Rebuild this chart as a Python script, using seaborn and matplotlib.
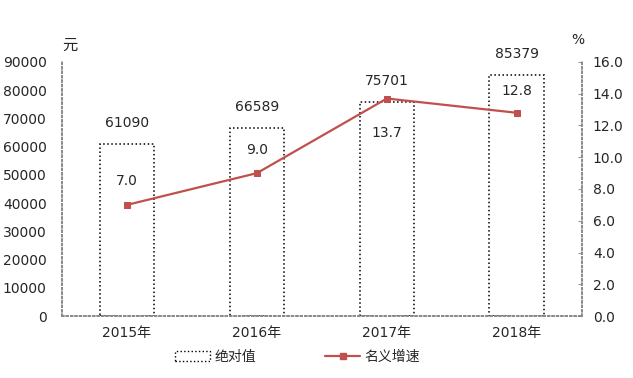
import pandas as pd
import numpy as np
import matplotlib
matplotlib.use('Agg')
import matplotlib.pyplot as plt
import seaborn as sns
from matplotlib.patches import Patch
from matplotlib.lines import Line2D

years = ['2015年', '2016年', '2017年', '2018年']
absolute = [61090, 66589, 75701, 85379]
growth = [7.0, 9.0, 13.7, 12.8]
growth_offsets = [17, 17, -25, 16]

df = pd.DataFrame({'year': years, 'absolute': absolute, 'growth': growth})

sns.set_style('white')
plt.rcParams['font.family'] = ['DejaVu Sans', 'Noto Sans CJK SC']

red = '#C0504D'

fig = plt.figure(figsize=(6.33, 3.78), dpi=100)
ax = fig.add_axes([0.098, 0.164, 0.821, 0.672])

sns.barplot(data=df, x='year', y='absolute', ax=ax, color='white',
            edgecolor='black', linewidth=1.1, linestyle=':', width=0.42)
ax.set_ylim(0, 90000)
ax.set_xlim(-0.5, 3.5)
ax.set_yticks(np.arange(0, 90001, 10000))
ax.set_xlabel('')
ax.set_ylabel('')
ax.tick_params(axis='y', labelsize=10, length=0, pad=11)
ax.tick_params(axis='x', labelsize=10, length=0, pad=7)

for i, v in enumerate(absolute):
    ax.annotate(str(v), (i, v), xytext=(0, 10), textcoords='offset points',
                ha='center', va='bottom', fontsize=10)

ax2 = ax.twinx()
sns.lineplot(x=np.arange(len(years)), y=growth, ax=ax2, color=red,
             marker='s', markersize=4, markeredgecolor=red, linewidth=1.6)
ax2.set_ylim(0, 16)
ax2.set_yticks(np.arange(0, 16.1, 2))
ax2.set_yticklabels([f'{t:.1f}' for t in np.arange(0, 16.1, 2)])
ax2.tick_params(axis='y', labelsize=10, length=3, direction='in', pad=8, color='#999999')
ax2.set_xlim(-0.5, 3.5)

for i, g in enumerate(growth):
    ax2.annotate(f'{g:.1f}', (i, g), xytext=(0, growth_offsets[i]), textcoords='offset points',
                 ha='center', va='center', fontsize=10)

for a in (ax, ax2):
    a.spines['top'].set_visible(False)
    for s in ('left', 'right', 'bottom'):
        a.spines[s].set_linestyle(':')
        a.spines[s].set_color('#888888')
        a.spines[s].set_linewidth(1.2)

fig.text(0.098, 0.88, '元', fontsize=11, ha='left', va='center')
fig.text(0.913, 0.893, '%', fontsize=10, ha='center', va='center')

handles = [Patch(facecolor='white', edgecolor='black', linestyle=':', linewidth=1.0),
           Line2D([0], [0], color=red, marker='s', markersize=4, linewidth=1.6)]
fig.legend(handles, ['绝对值', '名义增速'], loc='center', bbox_to_anchor=(0.47, 0.055),
           ncol=2, frameon=False, fontsize=10, columnspacing=5, handlelength=2.5,
           handletextpad=0.3)

fig.savefig('out.png', dpi=100)
